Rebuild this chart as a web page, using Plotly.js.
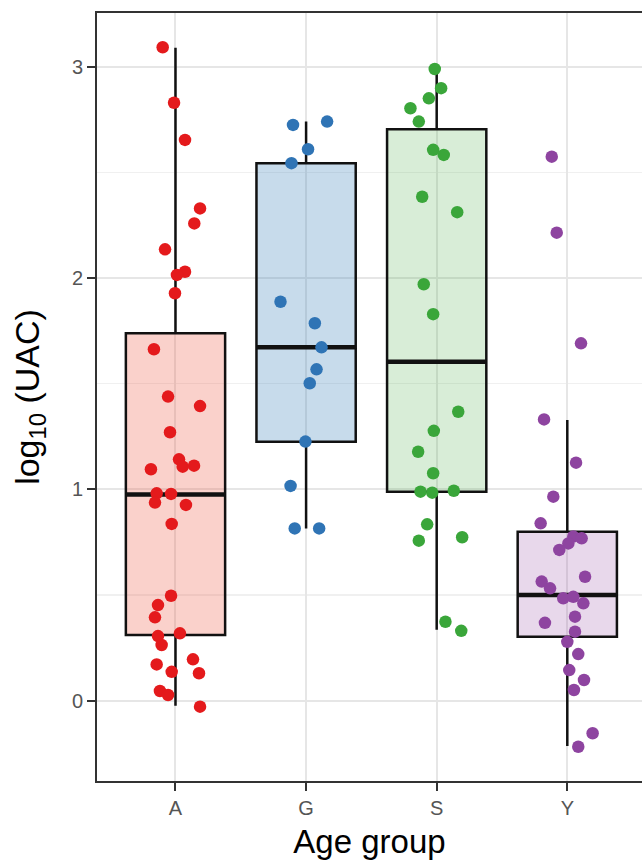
<!DOCTYPE html>
<html>
<head>
<meta charset="utf-8">
<script src="https://cdn.plot.ly/plotly-3.0.1.min.js"></script>
<style>
  html, body { margin: 0; padding: 0; background: #fff; overflow: hidden; }
  #chart { width: 642px; height: 867px; }
</style>
</head>
<body>
<div id="chart"></div>
<script>
// ---- data ----
const categories = ["A", "G", "S", "Y"];

// log10(UAC) values per age group
const valuesA = [3.093, 2.830, 2.654, 2.330, 2.259, 2.136, 2.030, 2.015, 1.928, 1.663,
                 1.439, 1.394, 1.270, 1.142, 1.112, 1.107, 1.095, 0.981, 0.978, 0.937,
                 0.926, 0.836, 0.496, 0.452, 0.394, 0.305, 0.318, 0.263, 0.171, 0.195,
                 0.136, 0.129, 0.045, 0.026, -0.029];
const jitterA = [-0.098, -0.011, 0.073, 0.188, 0.144, -0.080, 0.073, 0.011, -0.004, -0.165,
                 -0.057, 0.188, -0.042, 0.027, 0.142, 0.055, -0.188, -0.144, -0.034, -0.157,
                 0.080, -0.029, -0.034, -0.134, -0.157, -0.134, 0.034, -0.106, -0.144, 0.134,
                 -0.029, 0.180, -0.119, -0.057, 0.188];

const valuesG = [2.725, 2.741, 2.610, 2.544, 1.888, 1.786, 1.672, 1.568, 1.502, 1.226,
                 1.016, 0.815, 0.815];
const jitterG = [-0.100, 0.161, 0.015, -0.112, -0.196, 0.067, 0.118, 0.080, 0.028, -0.005,
                 -0.119, -0.087, 0.100];

const valuesS = [2.990, 2.899, 2.851, 2.804, 2.741, 2.607, 2.583, 2.385, 2.312, 1.971,
                 1.829, 1.367, 1.277, 1.178, 1.076, 0.989, 0.984, 0.993, 0.834, 0.757,
                 0.773, 0.373, 0.330];
const jitterS = [-0.015, 0.034, -0.060, -0.201, -0.137, -0.027, 0.054, -0.111, 0.157, -0.099,
                 -0.027, 0.165, -0.022, -0.142, -0.027, -0.124, -0.034, 0.131, -0.073, -0.137,
                 0.195, 0.067, 0.188];

const valuesY = [2.575, 2.215, 1.691, 1.331, 1.126, 0.965, 0.839, 0.776, 0.768, 0.744,
                 0.713, 0.586, 0.563, 0.531, 0.484, 0.491, 0.460, 0.368, 0.397, 0.326,
                 0.278, 0.220, 0.144, 0.097, 0.050, -0.155, -0.219];
const jitterY = [-0.119, -0.081, 0.105, -0.178, 0.067, -0.107, -0.204, 0.046, 0.110, 0.008,
                 -0.061, 0.136, -0.196, -0.132, -0.031, 0.046, 0.123, -0.171, 0.059, 0.059,
                 0.000, 0.084, 0.015, 0.128, 0.051, 0.194, 0.084];

// box statistics
const q1s         = [0.310, 1.225, 0.989, 0.302];
const medians     = [0.975, 1.672, 1.604, 0.500];
const q3s         = [1.739, 2.544, 2.705, 0.799];
const lowerfences = [-0.025, 0.815, 0.335, -0.215];
const upperfences = [3.090, 2.741, 2.985, 1.328];

const yTickVals = [0, 1, 2, 3];

// ---- styling ----
const pointColors = ["#e41a1c", "#2f74b5", "#3aa63a", "#8e44a0"];
const fillColors  = ["rgba(238,90,70,0.28)", "rgba(55,126,184,0.28)",
                     "rgba(77,175,74,0.22)", "rgba(152,78,163,0.22)"];
const groupValues = [valuesA, valuesG, valuesS, valuesY];
const groupJitter = [jitterA, jitterG, jitterS, jitterY];
const boxWidth = 0.76;
const FONT = "Liberation Sans, Arial, sans-serif";

const traces = [];
categories.forEach((c, i) => {
  traces.push({
    type: "box",
    x: [i + 1],
    q1: [q1s[i]], median: [medians[i]], q3: [q3s[i]],
    lowerfence: [lowerfences[i]], upperfence: [upperfences[i]],
    width: boxWidth,
    boxpoints: false,
    whiskerwidth: 0,
    fillcolor: fillColors[i],
    line: { color: "#111", width: 2.5 },
    hoverinfo: "skip",
    showlegend: false
  });
});
// thicker median bars
categories.forEach((c, i) => {
  traces.push({
    type: "scatter", mode: "lines",
    x: [i + 1 - boxWidth / 2, i + 1 + boxWidth / 2],
    y: [medians[i], medians[i]],
    line: { color: "#111", width: 4.5 },
    hoverinfo: "skip", showlegend: false
  });
});
// jittered points
categories.forEach((c, i) => {
  traces.push({
    type: "scatter", mode: "markers",
    x: groupValues[i].map((v, k) => i + 1 + groupJitter[i][k]),
    y: groupValues[i],
    marker: { color: pointColors[i], size: 12.5, line: { width: 0 } },
    hoverinfo: "skip", showlegend: false
  });
});

const layout = {
  width: 642, height: 867,
  margin: { l: 97, r: 0, t: 13, b: 86 },
  paper_bgcolor: "#fff", plot_bgcolor: "#fff",
  font: { family: FONT, color: "#000" },
  showlegend: false,
  xaxis: {
    range: [0.399, 4.572],
    tickvals: [1, 2, 3, 4], ticktext: categories,
    showgrid: true, gridcolor: "#e6e6e6", gridwidth: 2,
    zeroline: false,
    showline: true, linecolor: "#333", linewidth: 2, mirror: true,
    ticks: "outside", ticklen: 8, tickwidth: 2, tickcolor: "#333",
    tickfont: { family: FONT, size: 20, color: "#555" },
    title: { text: "Age group", font: { family: FONT, size: 33, color: "#000" }, standoff: 12 }
  },
  yaxis: {
    range: [-0.381, 3.255],
    tickvals: yTickVals,
    showgrid: true, gridcolor: "#e6e6e6", gridwidth: 2,
    minor: { dtick: 0.5, showgrid: true, gridcolor: "#f0f0f0", gridwidth: 1.5 },
    zeroline: false,
    showline: true, linecolor: "#333", linewidth: 2,
    ticks: "outside", ticklen: 8, tickwidth: 2, tickcolor: "#333",
    tickfont: { family: FONT, size: 20, color: "#555" },
    title: { text: "log<sub>10</sub> (UAC)", font: { family: FONT, size: 34, color: "#000" }, standoff: 22 }
  }
};

Plotly.newPlot("chart", traces, layout, { staticPlot: true, displayModeBar: false });
</script>
</body>
</html>
